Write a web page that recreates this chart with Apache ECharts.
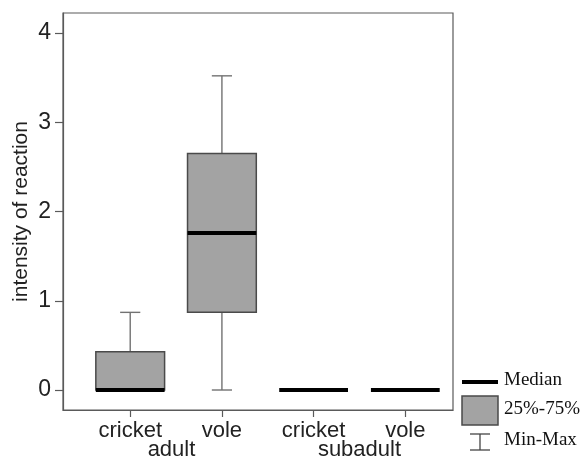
<!DOCTYPE html>
<html>
<head>
<meta charset="utf-8">
<script src="https://cdn.jsdelivr.net/npm/echarts@6/dist/echarts.min.js"></script>
<style>html,body{margin:0;padding:0;background:#fff}#c{width:581px;height:458px}</style>
</head>
<body>
<div id="c"></div>
<script>
const categories = ['cricket', 'vole', 'cricket', 'vole'];
const positions = [1, 2, 3, 4];
const groups = ['adult', 'subadult'];
const groupPositions = [1.45, 3.5];
const minVals = [0, 0, 0, 0];
const q1Vals = [0, 0.87, 0, 0];
const medianVals = [0, 1.76, 0, 0];
const q3Vals = [0.43, 2.65, 0, 0];
const maxVals = [0.87, 3.52, 0, 0];
const yTicks = [0, 1, 2, 3, 4];
const legendLabels = ['Median', '25%-75%', 'Min-Max'];

const data = positions.map((p, i) => [p, minVals[i], q1Vals[i], medianVals[i], q3Vals[i], maxVals[i]]);

const chart = echarts.init(document.getElementById('c'), null, {renderer: 'canvas'});
const SANS = 'Liberation Sans, Arial, sans-serif';
const SERIF = 'Liberation Serif, Times New Roman, serif';

function renderItem(params, api) {
  const x = api.value(0);
  const mn = api.value(1), q1 = api.value(2), md = api.value(3), q3 = api.value(4), mx = api.value(5);
  const bw = api.size([0.75, 0])[0];
  const cw = api.size([0.22, 0])[0];
  const pMin = api.coord([x, mn]), pQ1 = api.coord([x, q1]), pMd = api.coord([x, md]);
  const pQ3 = api.coord([x, q3]), pMax = api.coord([x, mx]);
  const cx = pMd[0];
  const wStyle = {stroke: '#727272', lineWidth: 1.4};
  const children = [];
  if (mx > q3) {
    children.push({type: 'line', shape: {x1: cx, y1: pQ3[1], x2: cx, y2: pMax[1]}, style: wStyle});
    children.push({type: 'line', shape: {x1: cx - cw / 2, y1: pMax[1], x2: cx + cw / 2, y2: pMax[1]}, style: wStyle});
  }
  if (q1 > mn) {
    children.push({type: 'line', shape: {x1: cx, y1: pQ1[1], x2: cx, y2: pMin[1]}, style: wStyle});
    children.push({type: 'line', shape: {x1: cx - cw / 2, y1: pMin[1], x2: cx + cw / 2, y2: pMin[1]}, style: wStyle});
  }
  if (q3 > q1) {
    children.push({type: 'rect', shape: {x: cx - bw / 2, y: pQ3[1], width: bw, height: pQ1[1] - pQ3[1]},
      style: {fill: '#a3a3a3', stroke: '#4a4a4a', lineWidth: 1.5}});
  }
  children.push({type: 'line', shape: {x1: cx - bw / 2, y1: pMd[1], x2: cx + bw / 2, y2: pMd[1]},
    style: {stroke: '#000', lineWidth: 4}});
  return {type: 'group', children: children};
}

const option = {
  animation: false,
  backgroundColor: '#fff',
  grid: {left: 63, top: 13, right: 128, bottom: 48, containLabel: false, outerBoundsMode: 'none',
    show: true, borderColor: '#5a5a5a', borderWidth: 1.2, backgroundColor: 'transparent'},
  xAxis: [{
    type: 'value', min: 0.267, max: 4.52,
    splitLine: {show: false},
    axisLine: {show: true, onZero: false, lineStyle: {color: '#5a5a5a', width: 1.2}},
    axisTick: {show: true, inside: false, length: 7, customValues: positions, lineStyle: {color: '#5a5a5a', width: 1.2}},
    axisLabel: {customValues: positions, margin: 10, fontFamily: SANS, fontSize: 22, color: '#222',
      formatter: (v) => categories[positions.indexOf(Math.round(v))] || ''}
  }, {
    type: 'value', min: 0.267, max: 4.52, position: 'bottom', offset: 19,
    splitLine: {show: false}, axisLine: {show: false}, axisTick: {show: false},
    axisLabel: {customValues: groupPositions, margin: 10, fontFamily: SANS, fontSize: 22, color: '#222',
      formatter: (v) => { const i = groupPositions.findIndex(g => Math.abs(g - v) < 1e-6); return i >= 0 ? groups[i] : ''; }}
  }],
  yAxis: {
    type: 'value', min: -0.224, max: 4.224,
    name: 'intensity of reaction', nameLocation: 'middle', nameGap: 31, nameRotate: 90, nameMoveOverlap: false,
    nameTextStyle: {fontFamily: SANS, fontSize: 21, color: '#222'},
    splitLine: {show: false},
    axisLine: {show: true, lineStyle: {color: '#5a5a5a', width: 1.2}},
    axisTick: {show: true, inside: false, length: 8, customValues: yTicks, lineStyle: {color: '#5a5a5a', width: 1.2}},
    axisLabel: {customValues: yTicks, margin: 12, fontFamily: SANS, fontSize: 23, color: '#222'}
  },
  series: [{
    type: 'custom', renderItem: renderItem, data: data,
    encode: {x: 0, y: [1, 2, 3, 4, 5]}, clip: false
  }],
  graphic: [
    {type: 'line', shape: {x1: 462, y1: 382, x2: 498, y2: 382}, style: {stroke: '#000', lineWidth: 4}},
    {type: 'text', left: 504, top: 371, style: {text: legendLabels[0], font: '19px ' + SERIF, fill: '#111'}},
    {type: 'rect', shape: {x: 462, y: 396, width: 36, height: 29}, style: {fill: '#a3a3a3', stroke: '#4a4a4a', lineWidth: 1.5}},
    {type: 'text', left: 504, top: 400, style: {text: legendLabels[1], font: '19px ' + SERIF, fill: '#111'}},
    {type: 'line', shape: {x1: 470, y1: 434, x2: 490, y2: 434}, style: {stroke: '#444', lineWidth: 1.3}},
    {type: 'line', shape: {x1: 480, y1: 434, x2: 480, y2: 450}, style: {stroke: '#444', lineWidth: 1.3}},
    {type: 'line', shape: {x1: 470, y1: 450, x2: 490, y2: 450}, style: {stroke: '#444', lineWidth: 1.3}},
    {type: 'text', left: 504, top: 431, style: {text: legendLabels[2], font: '19px ' + SERIF, fill: '#111'}}
  ]
};
chart.setOption(option);
</script>
</body>
</html>
